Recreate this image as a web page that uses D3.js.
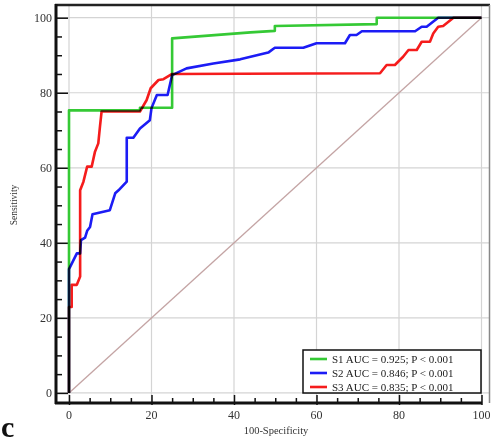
<!DOCTYPE html>
<html lang="en">
<head>
<meta charset="UTF-8">
<title>ROC</title>
<script src="https://cdnjs.cloudflare.com/ajax/libs/d3/7.8.5/d3.min.js"></script>
<style>
    body { margin: 0; background: white; }
    svg { display: block; font-family: "Liberation Serif", "Times New Roman", serif; }
    .curve { fill: none; stroke-width: 2.6px; mix-blend-mode: multiply; stroke-linejoin: round; }
</style>
</head>
<body>
<script>
    // 100-Specificity (x) / Sensitivity (y)
    var s1X = [0, 0, 17.2, 17.2, 25, 25, 44, 49.9, 49.9, 74.6, 74.6, 100];
    var s1Y = [0, 75.3, 75.3, 76, 76, 94.5, 96.1, 96.5, 97.8, 98.3, 100, 100];

    var s2X = [0, 0, 1.9, 2.7, 2.9, 3.9, 4.4, 5.1, 5.7, 9.9, 11.2, 12, 14, 14, 15.6, 17.2, 19.6, 20, 21.3, 23.9, 25, 28.5, 35, 41.5, 48.3, 49.9, 56.8, 60, 66.9, 68.1, 69.7, 71, 83.9, 85.5, 86.7, 89.5, 100];
    var s2Y = [0, 33, 37.2, 37.2, 40.7, 41.4, 43.2, 44.2, 47.6, 48.7, 53.2, 54, 56.3, 68, 68, 70.5, 72.7, 75.9, 79.4, 79.4, 84.7, 86.5, 87.8, 88.9, 90.7, 92, 92, 93.2, 93.2, 95.4, 95.4, 96.4, 96.4, 97.6, 97.6, 100, 100];

    var s3X = [0, 0, 0.65, 0.65, 1.9, 2.7, 2.7, 3.5, 4.4, 5.5, 6.3, 7.1, 7.5, 7.9, 17.2, 18.8, 19.8, 21.7, 22.9, 25, 75.4, 77, 79, 81, 82.3, 84.3, 85.5, 87.5, 88.3, 89.5, 90.7, 93.2, 100];
    var s3Y = [0, 22.9, 22.9, 28.8, 28.8, 31, 54, 56.3, 60.3, 60.3, 64.3, 66.5, 70.9, 75, 75, 78, 81.2, 83.4, 83.6, 85, 85.2, 87.4, 87.4, 89.6, 91.4, 91.4, 93.6, 93.6, 95.8, 97.6, 97.8, 100, 100];

    var seriesNames = ["S1", "S2", "S3"];
    var aucText = ["AUC = 0.925; P < 0.001", "AUC = 0.846; P < 0.001", "AUC = 0.835; P < 0.001"];
    var seriesColors = ["#35c935", "#1c1cf5", "#f51c1c"];
    var gridTicks = [0, 20, 40, 60, 80, 100];

    var W = 492, H = 443;
    var x = d3.scaleLinear().domain([0, 100]).range([69, 481.5]);
    var y = d3.scaleLinear().domain([0, 100]).range([392.9, 17.7]);

    var svg = d3.select("body").append("svg")
        .attr("width", W).attr("height", H);

    // grid
    svg.append("g").selectAll("line.gx").data(gridTicks).enter().append("line")
        .attr("x1", d => x(d)).attr("x2", d => x(d))
        .attr("y1", 5).attr("y2", 403)
        .style("stroke", "#d4d4d4").style("stroke-width", 1.2);
    svg.append("g").selectAll("line.gy").data(gridTicks).enter().append("line")
        .attr("y1", d => y(d)).attr("y2", d => y(d))
        .attr("x1", 56).attr("x2", 489)
        .style("stroke", "#d4d4d4").style("stroke-width", 1.2);

    // frame
    svg.append("line").attr("x1", 55).attr("x2", 490).attr("y1", 5).attr("y2", 5)
        .style("stroke", "#222").style("stroke-width", 2.5);
    svg.append("line").attr("x1", 489.5).attr("x2", 489.5).attr("y1", 5).attr("y2", 403)
        .style("stroke", "#888").style("stroke-width", 1.5);

    // y axis, ticks pointing inward
    var yAxis = d3.axisRight(y).tickValues(d3.range(0, 101, 5)).tickFormat("")
        .tickSize(6).tickSizeOuter(0);
    var ya = svg.append("g").attr("transform", "translate(56,0)").call(yAxis);
    ya.select(".domain").remove();
    ya.selectAll(".tick line").style("stroke", "#111").style("stroke-width", 1.5)
        .attr("x2", d => d % 20 === 0 ? 12 : 6);
    svg.append("line").attr("x1", 56).attr("x2", 56).attr("y1", 4).attr("y2", 404)
        .style("stroke", "#111").style("stroke-width", 3);
    svg.append("g").selectAll("text").data(gridTicks).enter().append("text")
        .attr("x", 52).attr("y", d => y(d) + 4)
        .attr("text-anchor", "end")
        .style("font-size", "12px").style("fill", "#333")
        .text(d => d);

    // x axis
    var xAxis = d3.axisTop(x).tickValues(d3.range(0, 101, 5)).tickFormat("")
        .tickSize(5).tickSizeOuter(0);
    var xa = svg.append("g").attr("transform", "translate(0,403)").call(xAxis);
    xa.select(".domain").remove();
    xa.selectAll(".tick line").style("stroke", "#111").style("stroke-width", 1.5)
        .attr("y1", d => d % 20 === 0 ? 2 : 0)
        .attr("y2", d => d % 20 === 0 ? -8 : -5);
    svg.append("line").attr("x1", 55).attr("x2", 482).attr("y1", 403).attr("y2", 403)
        .style("stroke", "#111").style("stroke-width", 3);
    svg.append("g").selectAll("text").data(gridTicks).enter().append("text")
        .attr("x", d => x(d)).attr("y", 419)
        .attr("text-anchor", "middle")
        .style("font-size", "12px").style("fill", "#333")
        .text(d => d);

    // axis titles
    svg.append("text").attr("x", 276).attr("y", 434).attr("text-anchor", "middle")
        .style("font-size", "10.5px").style("fill", "#333").text("100-Specificity");
    svg.append("text").attr("transform", "translate(17,205) rotate(-90)")
        .attr("text-anchor", "middle")
        .style("font-size", "9.5px").style("fill", "#333").text("Sensitivity");

    // reference diagonal
    svg.append("line")
        .attr("x1", x(0)).attr("y1", y(0)).attr("x2", x(100)).attr("y2", y(100))
        .style("stroke", "#c4a4a4").style("stroke-width", 1.3);

    // curves
    var line = d3.line().x(d => x(d[0])).y(d => y(d[1]));
    var curves = [d3.zip(s1X, s1Y), d3.zip(s2X, s2Y), d3.zip(s3X, s3Y)];
    var cg = svg.append("g").style("isolation", "isolate");
    cg.selectAll("path").data(curves).enter().append("path")
        .attr("class", "curve")
        .attr("d", line)
        .style("stroke", (d, i) => seriesColors[i]);

    // legend
    var lg = svg.append("g");
    lg.append("rect").attr("x", 303).attr("y", 350).attr("width", 178).attr("height", 43)
        .style("fill", "white").style("stroke", "#111").style("stroke-width", 1.5);
    seriesNames.forEach(function(n, i) {
        var ly = 359 + i * 14;
        lg.append("line").attr("x1", 310).attr("x2", 327).attr("y1", ly).attr("y2", ly)
            .style("stroke", seriesColors[i]).style("stroke-width", 2.6);
        lg.append("text").attr("x", 332).attr("y", ly + 4)
            .style("font-size", "11px").style("fill", "#222")
            .text(n + " " + aucText[i]);
    });

    // panel letter
    svg.append("text").attr("x", 1).attr("y", 437)
        .style("font-size", "30px").style("font-weight", "bold").style("fill", "#111")
        .text("c");
</script>
</body>
</html>
